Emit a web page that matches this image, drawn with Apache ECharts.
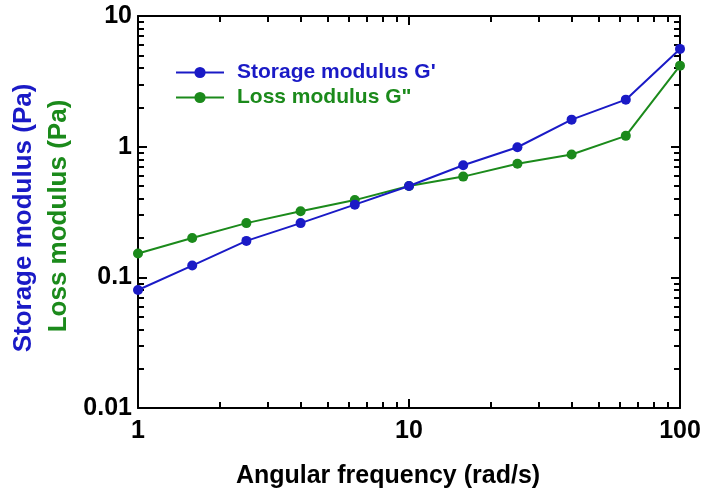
<!DOCTYPE html>
<html>
<head>
<meta charset="utf-8">
<script src="https://cdn.jsdelivr.net/npm/echarts@6/dist/echarts.min.js"></script>
<style>html,body{margin:0;padding:0;background:#fff}#c{width:704px;height:500px}</style>
</head>
<body>
<div id="c"></div>
<script>
var frequency = [1, 1.585, 2.512, 3.981, 6.31, 10, 15.85, 25.12, 39.81, 63.1, 100];
var storageModulus = [0.08, 0.123, 0.19, 0.26, 0.36, 0.5, 0.72, 0.99, 1.61, 2.29, 5.6];
var lossModulus = [0.152, 0.20, 0.26, 0.32, 0.39, 0.5, 0.59, 0.74, 0.87, 1.21, 4.17];
var xTickLabels = [1, 10, 100];
var yTickLabels = [0.01, 0.1, 1, 10];
var xMinorTicks = [2,3,4,5,6,7,8,9,20,30,40,50,60,70,80,90];
var yMinorTicks = [0.02,0.03,0.04,0.05,0.06,0.07,0.08,0.09,0.2,0.3,0.4,0.5,0.6,0.7,0.8,0.9,2,3,4,5,6,7,8,9];

var FONT = 'Arial, "Liberation Sans", sans-serif';
var BLUE = '#1a1ac6';
var GREEN = '#1b8a1b';

function pairs(xs, ys){ return xs.map(function(x,i){ return [x, ys[i]]; }); }

function axis(kind, pos, major, labels, minor, show){
  var isX = kind === 'x';
  return {
    type: 'log', logBase: 10, position: pos,
    min: isX ? 1 : 0.01, max: isX ? 100 : 10,
    axisLine: { show: show, onZero: false, lineStyle: { color: '#000', width: 2 } },
    axisTick: { show: true, inside: true, customValues: major ? labels : minor,
      length: major ? 9 : 6, lineStyle: { color: '#000', width: 2 } },
    axisLabel: { show: !!(major && show && (pos === 'bottom' || pos === 'left')), customValues: labels,
      fontFamily: FONT, fontWeight: 'bold', fontSize: 25, color: '#000',
      margin: isX ? 11 : 6 },
    splitLine: { show: false }, minorTick: { show: false }
  };
}

var chart = echarts.init(document.getElementById('c'));
chart.setOption({
  animation: false,
  backgroundColor: '#fff',
  grid: { left: 138, right: 24, top: 16, bottom: 92 },
  xAxis: [
    axis('x', 'bottom', true, xTickLabels, xMinorTicks, true),
    axis('x', 'bottom', false, xTickLabels, xMinorTicks, false),
    axis('x', 'top', true, xTickLabels, xMinorTicks, true),
    axis('x', 'top', false, xTickLabels, xMinorTicks, false)
  ],
  yAxis: [
    axis('y', 'left', true, yTickLabels, yMinorTicks, true),
    axis('y', 'left', false, yTickLabels, yMinorTicks, false),
    axis('y', 'right', true, yTickLabels, yMinorTicks, true),
    axis('y', 'right', false, yTickLabels, yMinorTicks, false)
  ],
  legend: {
    left: 175, top: 62, padding: 0, orient: 'vertical', itemWidth: 48, itemHeight: 14, itemGap: 4,
    textStyle: { fontFamily: FONT, fontWeight: 'bold', fontSize: 21, lineHeight: 21, padding: [0, 0, 0, 8] },
    data: [
      { name: "Storage modulus G'", textStyle: { color: BLUE } },
      { name: 'Loss modulus G"', textStyle: { color: GREEN } }
    ]
  },
  series: [
    { name: "Storage modulus G'", type: 'line', xAxisIndex: 0, yAxisIndex: 0,
      data: pairs(frequency, storageModulus), symbol: 'circle', symbolSize: 10, clip: false,
      itemStyle: { color: BLUE }, lineStyle: { color: BLUE, width: 2 }, z: 3 },
    { name: 'Loss modulus G"', type: 'line', xAxisIndex: 0, yAxisIndex: 0,
      data: pairs(frequency, lossModulus), symbol: 'circle', symbolSize: 10, clip: false,
      itemStyle: { color: GREEN }, lineStyle: { color: GREEN, width: 2 }, z: 2 }
  ],
  graphic: [
    { type: 'text', x: 388, y: 476, style: { text: 'Angular frequency (rad/s)', fill: '#000',
      font: 'bold 25px ' + FONT, align: 'center', verticalAlign: 'middle' } },
    { type: 'text', x: 24, y: 218, rotation: Math.PI / 2, style: { text: 'Storage modulus (Pa)', fill: BLUE,
      font: 'bold 26px ' + FONT, align: 'center', verticalAlign: 'middle' } },
    { type: 'text', x: 59, y: 216, rotation: Math.PI / 2, style: { text: 'Loss modulus (Pa)', fill: GREEN,
      font: 'bold 26px ' + FONT, align: 'center', verticalAlign: 'middle' } }
  ]
});
</script>
</body>
</html>
